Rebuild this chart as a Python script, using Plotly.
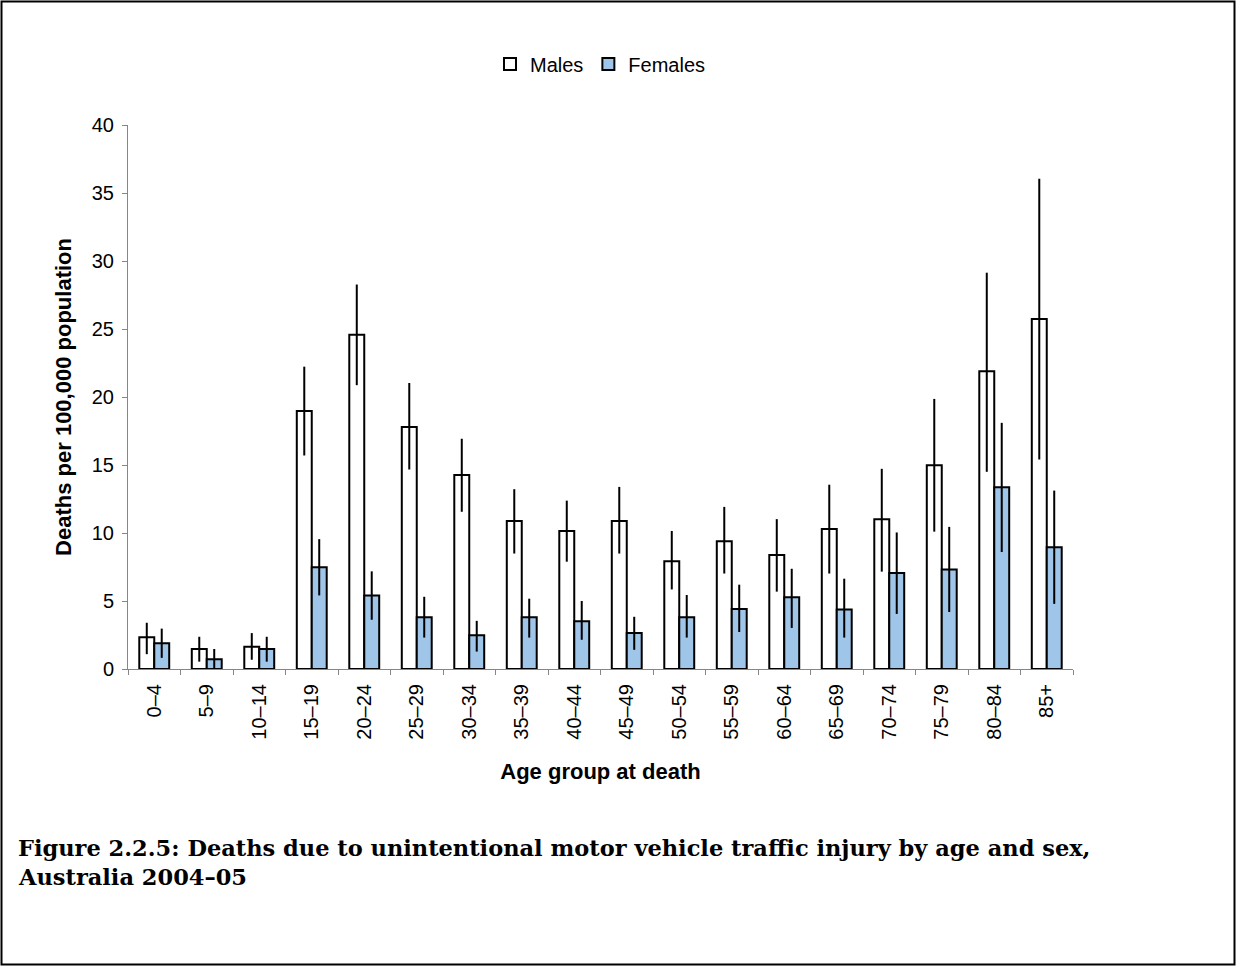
import plotly.graph_objects as go

age_groups = ["0–4", "5–9", "10–14", "15–19", "20–24", "25–29", "30–34", "35–39", "40–44",
              "45–49", "50–54", "55–59", "60–64", "65–69", "70–74", "75–79", "80–84", "85+"]

males = [2.34, 1.47, 1.63, 18.97, 24.57, 17.8, 14.26, 10.88, 10.15,
         10.88, 7.92, 9.39, 8.38, 10.29, 11.02, 14.99, 21.9, 25.74]
males_hi = [3.4, 2.37, 2.64, 22.23, 28.27, 21.03, 16.93, 13.22, 12.38,
            13.39, 10.15, 11.92, 11.02, 13.55, 14.72, 19.86, 29.14, 36.05]
males_lo = [1.09, 0.54, 0.68, 15.7, 20.87, 14.67, 11.56, 8.49, 7.89,
            8.49, 5.85, 7.02, 5.69, 7.02, 7.16, 10.1, 14.5, 15.4]

females = [1.9, 0.71, 1.47, 7.48, 5.41, 3.81, 2.48, 3.81, 3.51,
           2.64, 3.81, 4.41, 5.28, 4.38, 7.05, 7.32, 13.36, 8.95]
females_hi = [2.97, 1.47, 2.37, 9.55, 7.18, 5.31, 3.54, 5.17, 5.0,
              3.84, 5.44, 6.2, 7.37, 6.64, 10.04, 10.45, 18.1, 13.12]
females_lo = [0.82, 0.0, 0.54, 5.41, 3.62, 2.31, 1.28, 2.31, 2.15,
              1.41, 2.31, 2.72, 3.02, 2.31, 4.05, 4.19, 8.6, 4.79]

y_ticks = [0, 5, 10, 15, 20, 25, 30, 35, 40]

caption_1 = "Figure 2.2.5: Deaths due to unintentional motor vehicle traffic injury by age and sex,"
caption_2 = "Australia 2004–05"


def err(vals, hi, lo):
    return dict(type="data", symmetric=False,
                array=[h - v for h, v in zip(hi, vals)],
                arrayminus=[v - l for v, l in zip(vals, lo)],
                color="black", thickness=2, width=0)


fig = go.Figure()
fig.add_trace(go.Bar(name="Males", x=age_groups, y=males,
                     marker=dict(color="white", line=dict(color="black", width=2)),
                     error_y=err(males, males_hi, males_lo)))
fig.add_trace(go.Bar(name="Females", x=age_groups, y=females,
                     marker=dict(color="#9FC5E8", line=dict(color="black", width=2)),
                     error_y=err(females, females_hi, females_lo)))

W, H = 1236, 966
ml, mr, mt, mb = 128, 163, 125, 297
pw, ph = W - ml - mr, H - mt - mb


def px_x(p):
    return (p - ml) / pw


def px_y(p):
    return (H - mb - p) / ph


cap_font = dict(family="DejaVu Serif, serif", size=22.5, color="black")

fig.update_layout(
    width=W, height=H,
    margin=dict(l=ml, r=mr, t=mt, b=mb, autoexpand=False),
    paper_bgcolor="white", plot_bgcolor="white",
    barmode="group", bargap=0.43, bargroupgap=0,
    font=dict(family="Liberation Sans, Arial, sans-serif", color="black", size=20),
    showlegend=True,
    legend=dict(orientation="h", x=0.5, xanchor="center", y=px_y(64), yanchor="middle",
                font=dict(size=20), itemwidth=30, bgcolor="rgba(0,0,0,0)",
                tracegroupgap=0),
    xaxis=dict(type="category", showline=True, linecolor="#868686", linewidth=1,
               ticks="outside", tickson="boundaries", ticklen=5, tickcolor="#868686",
               tickangle=-90, tickfont=dict(size=20), showgrid=False, ticklabelstandoff=6,
               title=dict(text="<b>Age group at death</b>", font=dict(size=22), standoff=24)),
    yaxis=dict(range=[0, 40], tickvals=y_ticks, showline=True, linecolor="#868686", linewidth=1,
               ticks="outside", ticklen=5, tickcolor="#868686", showgrid=False, zeroline=False,
               tickfont=dict(size=20), ticklabelstandoff=4,
               title=dict(text="<b>Deaths per 100,000 population</b>", font=dict(size=22), standoff=14)),
    shapes=[dict(type="rect", xref="paper", yref="paper",
                 x0=px_x(1.5), x1=px_x(1234.5), y0=px_y(964.5), y1=px_y(1.5),
                 line=dict(color="black", width=2), layer="below")],
    annotations=[
        dict(xref="paper", yref="paper", x=px_x(16), y=px_y(848),
             xanchor="left", yanchor="middle", align="left", showarrow=False,
             text="<b>" + caption_1 + "</b>", font=cap_font),
        dict(xref="paper", yref="paper", x=px_x(16), y=px_y(877),
             xanchor="left", yanchor="middle", align="left", showarrow=False,
             text="<b>" + caption_2 + "</b>", font=cap_font),
    ],
)

fig.write_html("out.html", config={"displayModeBar": False},
               post_script="document.body.style.margin='0';document.body.style.padding='0';")
